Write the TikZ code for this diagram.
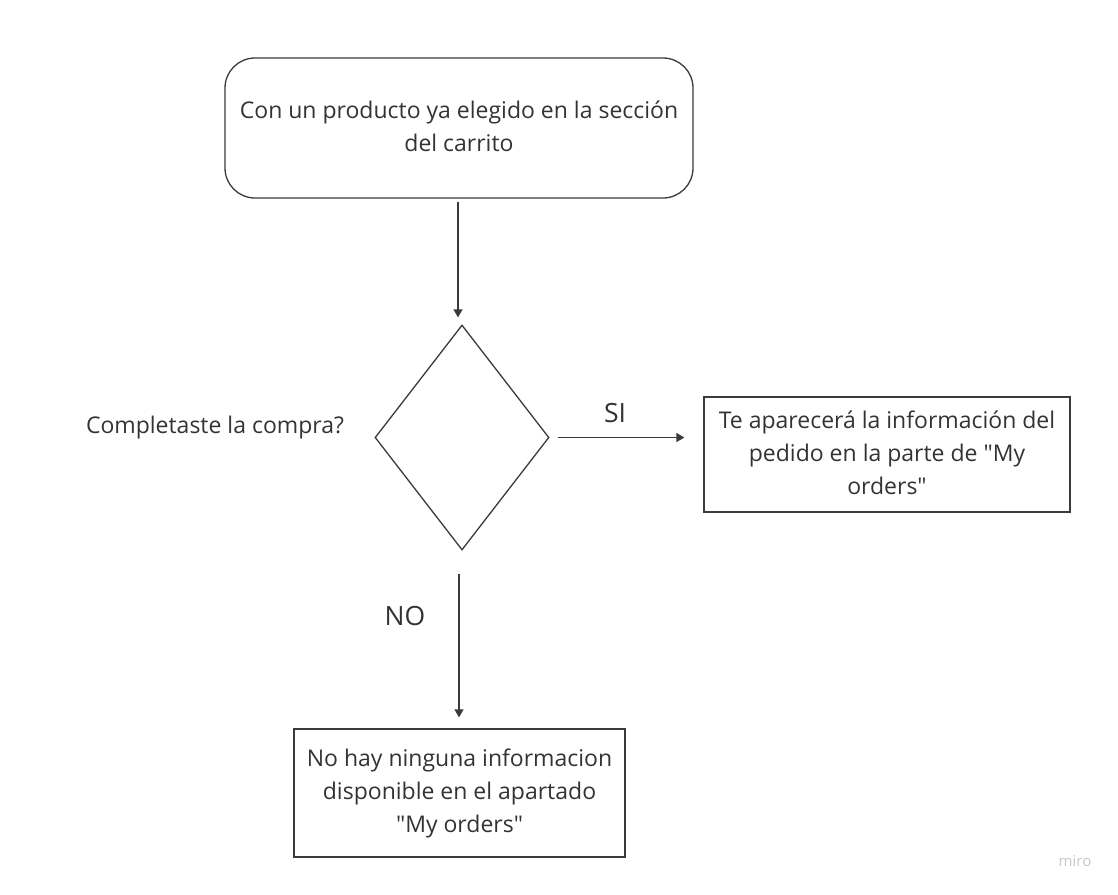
\documentclass[tikz,border=0pt]{standalone}
\usepackage{fontspec}
\setmainfont{Open Sans}[Ligatures=TeXOff]
\usetikzlibrary{shapes.geometric,arrows.meta}
\definecolor{ink}{HTML}{333333}
\definecolor{edge}{HTML}{3A3A3A}
\definecolor{faint}{HTML}{C8C8CC}
\tikzset{
  txt/.style={font=\fontsize{23}{33}\selectfont, text=ink, align=center},
  roundbox/.style={draw=edge, line width=1.3pt, rounded corners=30pt, minimum width=468pt, minimum height=140pt, txt},
  plainbox/.style={draw=edge, line width=1.3pt, txt},
  decision/.style={draw=edge, line width=1.3pt, diamond, minimum width=174pt, minimum height=225pt, inner sep=0pt},
  conn/.style={draw=edge, line width=1.3pt, -{Triangle[width=9pt,length=8pt]}},
  lbl/.style={font=\fontsize{26.5}{30}\selectfont, text=ink}
}
\begin{document}
\begin{tikzpicture}[x=1pt,y=-1pt]
\useasboundingbox (0,0) rectangle (1118,894);
\node[roundbox] (start) at (459,128) {\begin{tabular}{@{}c@{}}Con un producto ya elegido en la sección\\del carrito\end{tabular}};
\node[decision] (dec) at (462,437.5) {};
\node[txt, anchor=center] (q) at (215,428) {Completaste la compra?};
\node[plainbox, minimum width=366pt, minimum height=115pt] (yes) at (887,454.5) {\raisebox{2pt}{\begin{tabular}{@{}c@{}}Te aparecerá la información del\\pedido en la parte de "My\\orders"\end{tabular}}};
\node[plainbox, minimum width=331pt, minimum height=128pt] (no) at (459.5,793) {\raisebox{1pt}{\begin{tabular}{@{}c@{}}No hay ninguna informacion\\disponible en el apartado\\"My orders"\end{tabular}}};
\node[lbl] (si) at (615,413) {SI};
\node[lbl] (nolbl) at (405,616) {NO};
\node[font=\fontsize{15}{17}\selectfont, text=faint] (miro) at (1075,861) {miro};
\draw[conn, shorten <=3pt, shorten >=7pt] (start.south -| 458,0) -- (dec.north -| 458,0);
\draw[conn, shorten <=8pt, shorten >=19pt] (dec.east) -- (yes.west |- dec.east);
\draw[conn, shorten <=23pt, shorten >=11pt] (dec.south -| 459,0) -- (no.north -| 459,0);
\end{tikzpicture}
\end{document}
